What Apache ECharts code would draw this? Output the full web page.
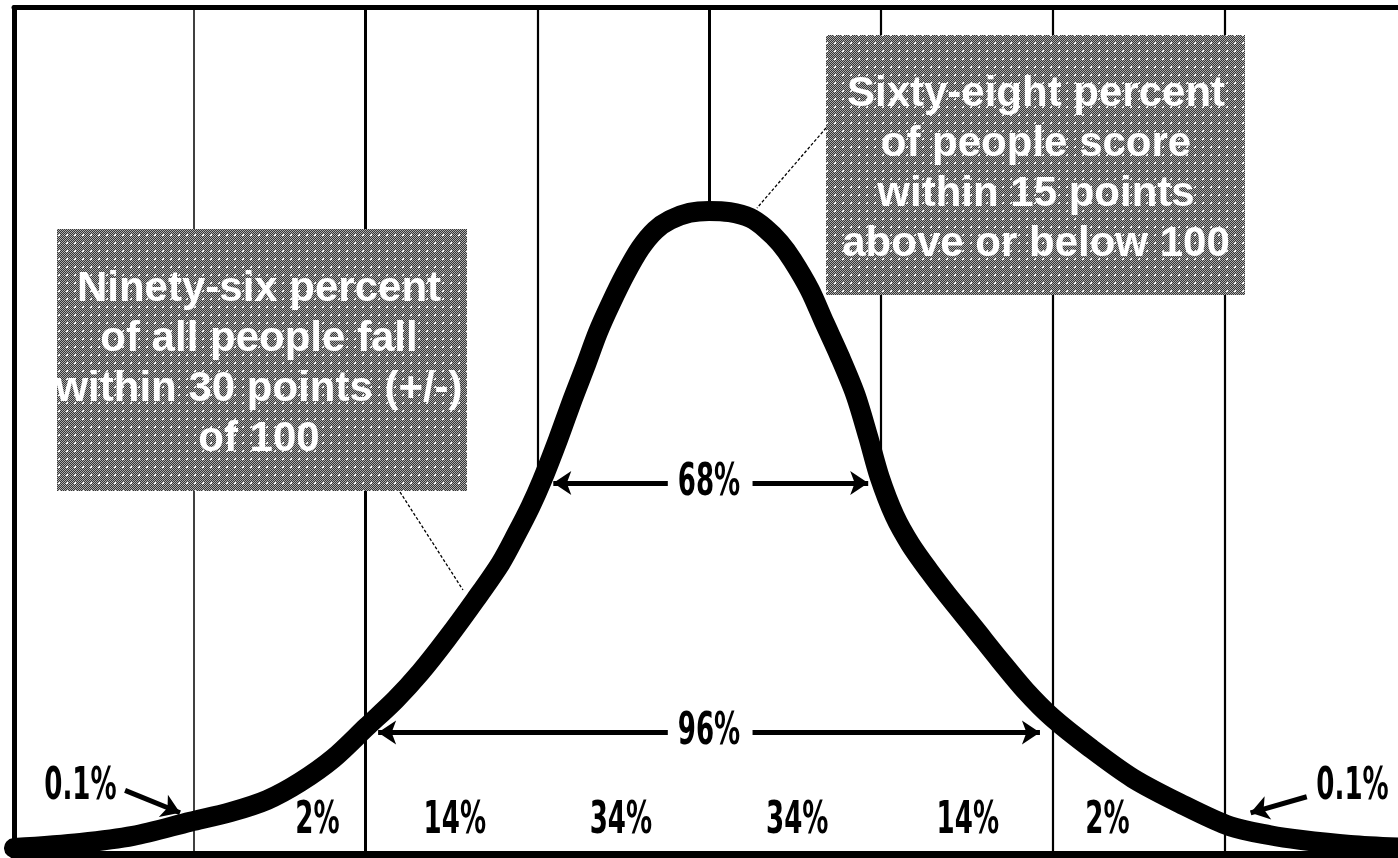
<!DOCTYPE html>
<html>
<head>
<meta charset="utf-8">
<title>IQ bell curve</title>
<script src="https://cdn.jsdelivr.net/npm/echarts@6/dist/echarts.min.js"></script>
<style>
  html, body { margin: 0; padding: 0; background: #fff; }
  #chart { width: 1398px; height: 858px; }
</style>
</head>
<body>
<div id="chart"></div>
<script>
// x = IQ score, y = relative height of the curve (peak about 100)
const iqScores = [39.3, 45.1, 49.7, 54.7, 58.2, 61.4, 64.3, 67.2, 70.1, 72.6, 74.8, 77.1, 79.6, 81.8, 83.2, 84.4,
  85.4, 86.8, 88.1, 89.2, 90.3, 91.4, 92.7, 94.0, 95.3, 96.6, 98.3, 100,
  101.8, 103.6, 104.9, 106.2, 107.3, 108.8, 110.1, 111.4, 112.8, 113.9, 114.9, 116.2, 117.6, 119.3, 120.8,
  123.2, 125.4, 127.6, 130.0, 133.3, 137.0, 141.1, 145.5, 149.0, 151.6, 156.0, 161.1];
const curveHeight = [1.0, 1.8, 2.9, 5.1, 6.6, 8.5, 11.3, 15.0, 19.9, 24.1, 28.4, 33.6, 39.7, 45.4, 50.0, 54.2,
  58.2, 64.6, 71.0, 76.1, 81.4, 85.8, 90.5, 94.5, 97.3, 98.9, 100.0, 100.3,
  100.1, 99.2, 97.6, 95.3, 92.6, 88.0, 82.8, 77.7, 71.6, 65.1, 58.8, 52.8, 48.3, 44.0, 40.5,
  35.2, 30.3, 25.6, 21.3, 16.6, 11.9, 8.0, 4.4, 3.0, 2.3, 1.5, 1.0];

const sigmaLines = [55, 70, 85, 100, 115, 130, 145];
const fullHeightLines = [55, 70, 130, 145];

const bandText = ['0.1%', '2%', '14%', '34%', '34%', '14%', '2%', '0.1%'];
const bandTextX = [45.1, 65.8, 77.8, 92.3, 107.7, 122.6, 134.8, 156.2];
const bandTextY = [10.5, 5.2, 5.2, 5.2, 5.2, 5.2, 5.2, 10.5];

const spanText = ['68%', '96%'];
const spanTextX = [100, 100];
const spanTextY = [57.9, 19.0];

const arrowFrom = [[96.4, 57.9], [103.8, 57.9], [96.4, 19.0], [103.8, 19.0], [49.0, 10.0], [152.2, 9.0]];
const arrowTo = [[86.4, 57.9], [113.9, 57.9], [71.1, 19.0], [128.9, 19.0], [53.8, 6.5], [147.3, 6.5]];

const note96 = ['Ninety-six percent', 'of all people fall', 'within 30 points (+/-)', 'of 100'];
const note68 = ['Sixty-eight percent', 'of people score', 'within 15 points', 'above or below 100'];

const yTop = 132;

// where the curve sits at a given score (for lines that stop on the curve)
function curveAt(x) {
  for (let i = 1; i < iqScores.length; i++) {
    if (iqScores[i] >= x) {
      const t = (x - iqScores[i - 1]) / (iqScores[i] - iqScores[i - 1]);
      return curveHeight[i - 1] + t * (curveHeight[i] - curveHeight[i - 1]);
    }
  }
  return curveHeight[curveHeight.length - 1];
}

// dithered grey fill like the old print
function ditherPattern() {
  const c = document.createElement('canvas');
  c.width = 8; c.height = 8;
  const ctx = c.getContext('2d');
  for (let i = 0; i < 8; i++) {
    for (let j = 0; j < 8; j++) {
      ctx.fillStyle = (i + j) % 2 ? '#363636' : '#acacac';
      ctx.fillRect(i, j, 1, 1);
    }
  }
  ctx.fillStyle = '#ffffff';
  ctx.fillRect(3, 3, 1, 1);
  ctx.fillRect(2, 3, 1, 1);
  ctx.fillRect(3, 2, 1, 1);
  return c;
}

const chart = echarts.init(document.getElementById('chart'));

const hidden = { axisTick: { show: false }, axisLabel: { show: false }, splitLine: { show: false } };

const option = {
  animation: false,
  backgroundColor: '#fff',
  grid: { left: 14, top: 7.5, right: 0, bottom: 3.5 },
  xAxis: [
    Object.assign({
      type: 'value', min: 39.3, max: 160.17, position: 'bottom',
      axisLine: { show: true, onZero: false, lineStyle: { color: '#000', width: 8 } }
    }, hidden),
    Object.assign({
      type: 'value', min: 39.3, max: 160.17, position: 'top',
      axisLine: { show: true, onZero: false, lineStyle: { color: '#000', width: 5 } }
    }, hidden)
  ],
  yAxis: Object.assign({
    type: 'value', min: 0, max: yTop,
    axisLine: { show: true, onZero: false, lineStyle: { color: '#000', width: 5 } }
  }, hidden),
  series: [
    {
      name: 'lines',
      type: 'line',
      data: [],
      z: 2,
      markLine: {
        silent: true,
        symbol: 'none',
        label: { show: false },
        lineStyle: { color: '#000', type: 'solid' },
        data: fullHeightLines.map(v => ({
          xAxis: v,
          lineStyle: { color: '#000', type: 'solid', width: v === 70 ? 3 : (v === 55 ? 1.5 : 2.2) }
        })).concat(
          sigmaLines.filter(v => fullHeightLines.indexOf(v) < 0).map(v => [
            { coord: [v, yTop], lineStyle: { color: '#000', type: 'solid', width: v === 100 ? 3 : 2.2 } },
            { coord: [v, curveAt(v)] }
          ])
        )
      }
    },
    {
      name: 'arrows',
      type: 'line',
      data: [],
      z: 3,
      markLine: {
        silent: true,
        symbol: ['none', 'arrow'],
        symbolSize: 18,
        label: { show: false },
        lineStyle: { color: '#000', type: 'solid', width: 5 },
        data: arrowFrom.map((p, i) => [{ coord: p }, { coord: arrowTo[i] }])
      }
    },
    {
      name: 'curve',
      type: 'line',
      z: 4,
      smooth: 0.3,
      showSymbol: false,
      data: iqScores.map((x, i) => [x, curveHeight[i]]),
      lineStyle: { color: '#000', width: 20, cap: 'round', join: 'round' }
    }
  ]
};

chart.setOption(option);

// text and boxes, placed after the axes exist
const condensed = 'bold 29px "DejaVu Sans Condensed", "Liberation Sans Narrow", sans-serif';
const boxFont = 'bold 42px "Liberation Sans", Arial, sans-serif';
const fill = { image: ditherPattern(), repeat: 'repeat' };
const graphics = [];

function pctText(txt, x, y) {
  const p = chart.convertToPixel({ gridIndex: 0 }, [x, y]);
  graphics.push({
    type: 'text', x: p[0], y: p[1], scaleY: 1.55, z: 20,
    style: { text: txt, font: condensed, fill: '#000', align: 'center', verticalAlign: 'middle',
      textAlign: 'center', textVerticalAlign: 'middle' }
  });
}

bandText.forEach((t, i) => pctText(t, bandTextX[i], bandTextY[i]));
spanText.forEach((t, i) => pctText(t, spanTextX[i], spanTextY[i]));

function noteBox(lines, x, y, w, h, cx, firstY) {
  graphics.push({
    type: 'rect', z: 30, shape: { x: x, y: y, width: w, height: h },
    style: { fill: fill }
  });
  lines.forEach((t, i) => {
    graphics.push({
      type: 'text', z: 31, x: cx, y: firstY + i * 50,
      style: { text: t, font: boxFont, fill: '#fff', align: 'center', verticalAlign: 'middle',
        textAlign: 'center', textVerticalAlign: 'middle' }
    });
  });
}

noteBox(note96, 57, 229, 410, 262, 259, 289);
noteBox(note68, 826, 35, 419, 260, 1036, 94);

// leader lines from the notes to the curve
graphics.push({
  type: 'line', z: 25, shape: { x1: 400, y1: 492, x2: 463, y2: 590 },
  style: { stroke: '#000', lineWidth: 1.3, lineDash: [3, 2] }
});
graphics.push({
  type: 'line', z: 25, shape: { x1: 826, y1: 128, x2: 757, y2: 208 },
  style: { stroke: '#000', lineWidth: 1.3, lineDash: [3, 2] }
});

chart.setOption({ graphic: graphics });
</script>
</body>
</html>
